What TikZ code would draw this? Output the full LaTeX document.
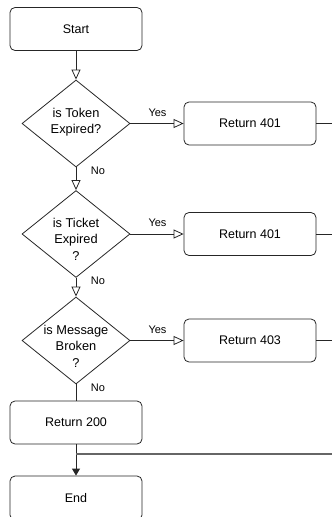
\documentclass[tikz,border=0pt]{standalone}
\usepackage{fontspec}
\setmainfont{Liberation Sans}
\usetikzlibrary{shapes.geometric,arrows.meta}
\begin{document}
\begin{tikzpicture}[x=1pt,y=-1pt,
  box/.style={draw=black!85, rounded corners=5pt, minimum width=132pt, minimum height=43pt, inner sep=0pt, font=\fontsize{12.5}{15}\selectfont, line width=0.8pt},
  dec/.style={draw=black!85, diamond, minimum width=108pt, minimum height=87pt, inner sep=0pt, line width=0.8pt},
  dtext/.style={align=center, inner sep=0pt, font=\fontsize{12.8}{16.5}\selectfont},
  lbl/.style={font=\fontsize{11}{13}\selectfont, inner sep=0pt},
  flow/.style={draw=black!85, line width=0.8pt},
  openarr/.style={flow, -{Triangle[open, length=10pt, width=9pt]}},
  fillarr/.style={flow, -{Triangle[length=7pt, width=8pt]}},
  joinline/.style={draw=black!60, line width=1.4pt},
]
\clip (0,0) rectangle (332,517);
% nodes
\node[box] (start) at (76,29) {Start};
\node[dec] (d1) at (76,123.5) {};
\node[dtext] (d1t) at (76,122) {is Token\\Expired?};
\node[box] (r1) at (250,123.5) {Return 401};
\node[dec] (d2) at (76,234) {};
\node[dtext] (d2t) at (76,239) {is Ticket\\Expired\\?};
\node[box] (r2) at (250,234) {Return 401};
\node[dec] (d3) at (76,340.5) {};
\node[dtext] (d3t) at (76,346) {is Message\\Broken\\?};
\node[box] (r3) at (250,340.5) {Return 403};
\node[box] (r200) at (76,422.5) {Return 200};
\node[box, minimum height=44pt] (end) at (76,498) {End};
% labels
\node[lbl] (y1) at (157.5,112.5) {Yes};
\node[lbl] (y2) at (157.5,223) {Yes};
\node[lbl] (y3) at (157.5,329.5) {Yes};
\node[lbl] (n1) at (98,171) {No};
\node[lbl] (n2) at (98,281) {No};
\node[lbl] (n3) at (98,388) {No};
% free ends
\coordinate (e1) at (340,123.5);
\coordinate (e2) at (340,234);
\coordinate (e3) at (340,340.5);
\coordinate (j) at (76,454);
\coordinate (jr) at (340,454);
% connectors
\draw[openarr] (start) -- (d1);
\draw[openarr] (d1.east) -- (r1.west);
\draw[openarr] (d1) -- (d2);
\draw[openarr] (d2.east) -- (r2.west);
\draw[openarr] (d2) -- (d3);
\draw[openarr] (d3.east) -- (r3.west);
\draw[flow] (d3) -- (r200);
\draw[fillarr] (r200) -- (end);
\draw[joinline] (j) -- (jr);
\draw[flow] (r1.east) -- (e1);
\draw[flow] (r2.east) -- (e2);
\draw[flow] (r3.east) -- (e3);
\end{tikzpicture}
\end{document}
